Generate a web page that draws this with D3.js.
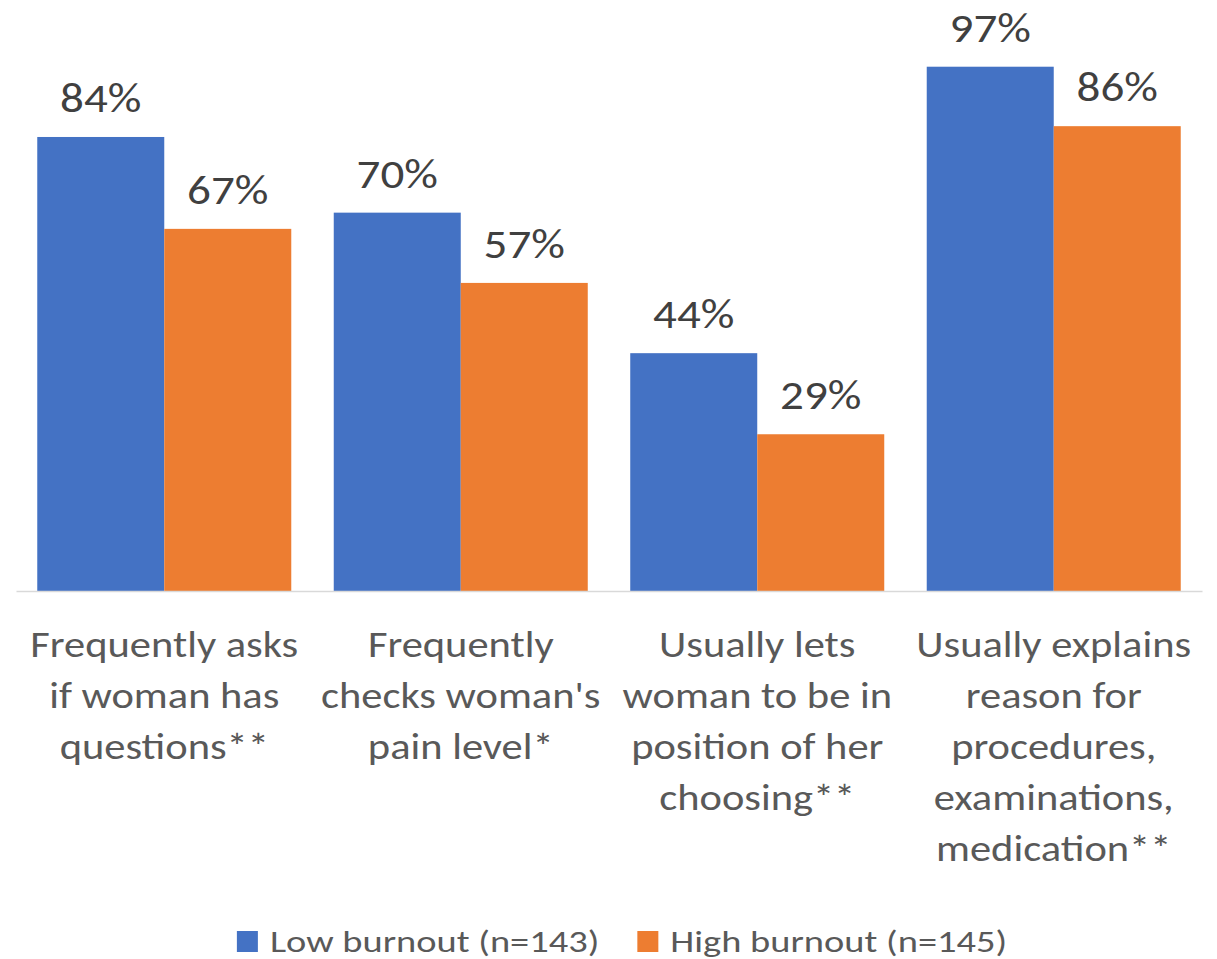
<!DOCTYPE html>
<html>
<head>
<meta charset="utf-8">
<script src="https://cdn.jsdelivr.net/npm/d3@7"></script>
<style>
  html, body { margin: 0; padding: 0; background: #ffffff; }
  svg { display: block; font-family: Carlito, Calibri, Lato, "Open Sans", sans-serif; }
</style>
</head>
<body>
<svg id="chart" width="1217" height="959"></svg>
<script>
// Category labels, already split into the lines they wrap to
const categoryLines = [
  ["Frequently asks", "if woman has", "questions**"],
  ["Frequently", "checks woman's", "pain level*"],
  ["Usually lets", "woman to be in", "position of her", "choosing**"],
  ["Usually explains", "reason for", "procedures,", "examinations,", "medication**"]
];
const categories = categoryLines.map(l => l.join(" "));

// Share of respondents (%) for each group
const seriesNames = ["Low burnout (n=143)", "High burnout (n=145)"];
const lowBurnout = [84, 70, 44, 97];
const highBurnout = [67, 57, 29, 86];
const seriesColors = ["#4472C4", "#ED7D31"];

// Horizontal widening applied to text so the glyphs keep a wide, open look
const valueStretch = 1.12;
const categoryStretch = 1.18;
const legendStretch = 1.24;

const svg = d3.select("#chart");
const plot = { left: 16, right: 1202, top: 50.5, bottom: 591 };

const x0 = d3.scaleBand()
  .domain(categories)
  .range([plot.left, plot.right])
  .paddingInner(0.1433)
  .paddingOuter(0.0717);

const x1 = d3.scaleBand()
  .domain(seriesNames)
  .range([0, x0.bandwidth()])
  .padding(0);

const y = d3.scaleLinear().domain([0, 100]).range([plot.bottom, plot.top]);
const color = d3.scaleOrdinal().domain(seriesNames).range(seriesColors);

const rows = categories.map((c, i) => ({
  category: c,
  values: [
    { series: seriesNames[0], value: lowBurnout[i] },
    { series: seriesNames[1], value: highBurnout[i] }
  ]
}));

// Bars
const groups = svg.append("g").selectAll("g")
  .data(rows)
  .join("g")
  .attr("transform", d => `translate(${x0(d.category)},0)`);

groups.selectAll("rect")
  .data(d => d.values)
  .join("rect")
  .attr("x", d => x1(d.series))
  .attr("y", d => y(d.value))
  .attr("width", x1.bandwidth())
  .attr("height", d => y(0) - y(d.value))
  .attr("fill", d => color(d.series));

// Value labels above each bar
groups.selectAll("text.value")
  .data(d => d.values)
  .join("text")
  .attr("class", "value")
  .attr("transform", d =>
    `translate(${x1(d.series) + x1.bandwidth() / 2},${y(d.value) - 25}) scale(${valueStretch},1)`)
  .attr("text-anchor", "middle")
  .attr("fill", "#404040")
  .style("font-size", "42px")
  .text(d => d.value + "%");

// Category axis: baseline only, labels drawn below as wrapped text
const axis = svg.append("g")
  .attr("transform", `translate(0,${plot.bottom})`)
  .call(d3.axisBottom(x0).tickSize(0).tickFormat(""));
axis.select(".domain").attr("stroke", "#D9D9D9").attr("stroke-width", 1.5);

const labels = svg.append("g").selectAll("text")
  .data(categoryLines.map((lines, i) => ({ lines, category: categories[i] })))
  .join("text")
  .attr("text-anchor", "middle")
  .attr("fill", "#595959")
  .style("font-size", "36px")
  .attr("transform", d =>
    `translate(${x0(d.category) + x0.bandwidth() / 2},657) scale(${categoryStretch},1)`);

labels.selectAll("tspan")
  .data(d => d.lines)
  .join("tspan")
  .attr("x", 0)
  .attr("y", (d, i) => i * 51)
  .text(d => d);

// Legend
const legend = svg.append("g");
const items = legend.selectAll("g")
  .data(seriesNames)
  .join("g");
items.append("rect")
  .attr("width", 21)
  .attr("height", 21)
  .attr("y", -21)
  .attr("fill", d => color(d));
items.append("text")
  .attr("transform", `translate(33,0) scale(${legendStretch},1)`)
  .attr("fill", "#595959")
  .style("font-size", "31px")
  .text(d => d);

let cursor = 0;
const gap = 38;
items.each(function () {
  d3.select(this).attr("transform", `translate(${cursor},0)`);
  const w = 33 + legendStretch * d3.select(this).select("text").node().getComputedTextLength();
  cursor += w + gap;
});
const legendWidth = cursor - gap;
legend.attr("transform", `translate(${622 - legendWidth / 2},952)`);
</script>
</body>
</html>
